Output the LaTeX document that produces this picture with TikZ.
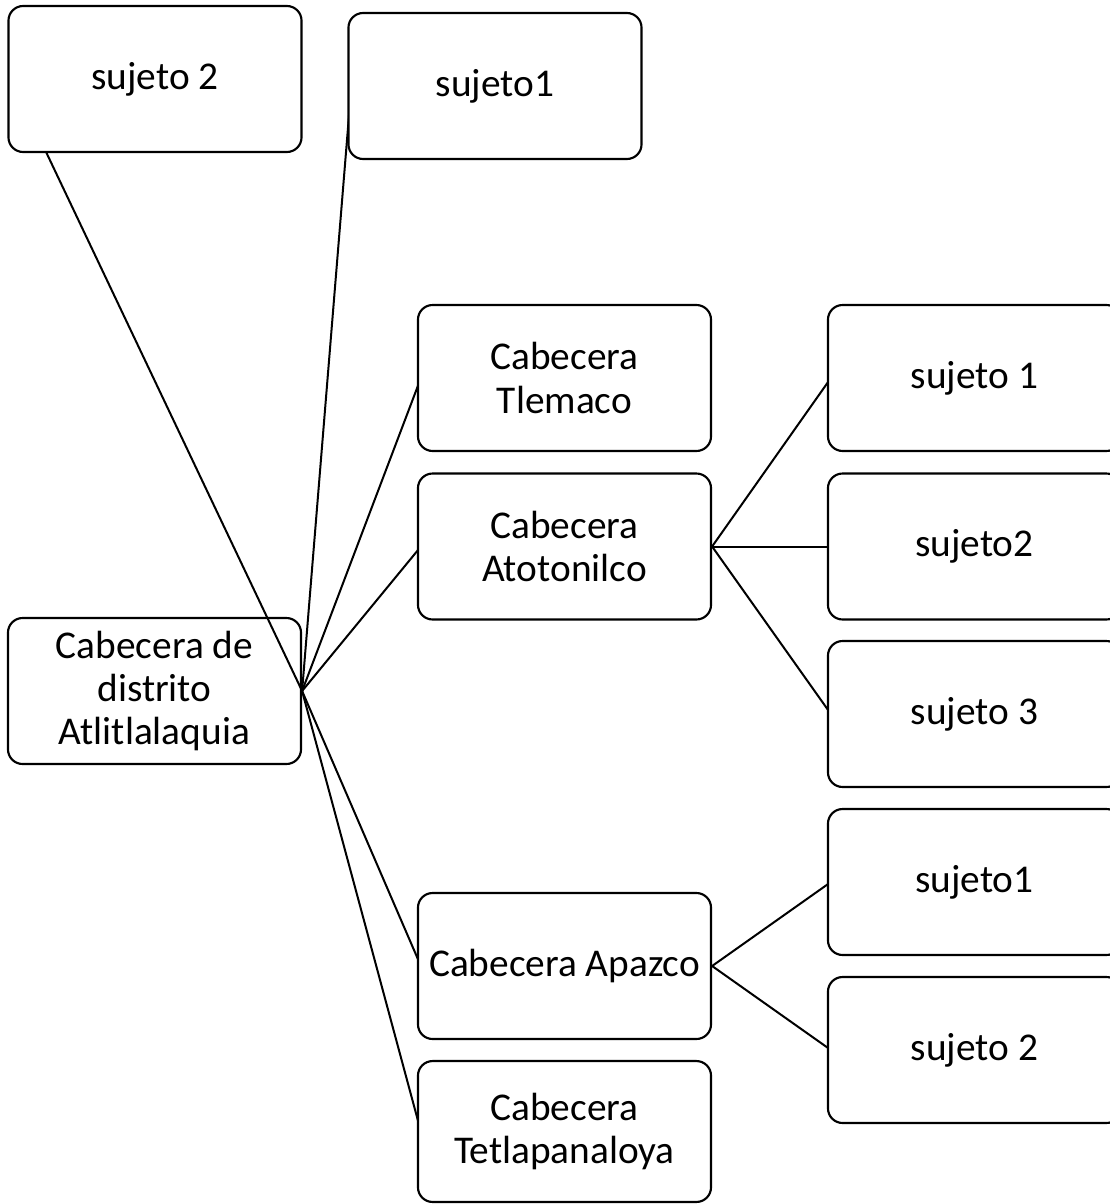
\documentclass[tikz,border=0pt]{standalone}
\usepackage{fontspec}
\setmainfont{Carlito}
\usetikzlibrary{backgrounds,calc}
\begin{document}
\begin{tikzpicture}[x=0.75pt,y=-0.75pt,
  box/.style={draw=black, fill=white, rounded corners=11pt, line width=1.6pt,
    minimum width=219.8pt, minimum height=109.5pt, align=center, inner sep=0pt,
    font=\fontsize{29.5}{32.5}\selectfont},
  conn/.style={draw=black, line width=1.5pt}]
\useasboundingbox (0,0) rectangle (1110,1204);
\clip (0,0) rectangle (1110,1204);
\node[box] (s2top) at (155,79) {sujeto 2};
\node[box] (s1top) at (495,86) {sujeto1};
\node[box] (tlemaco) at (564.5,378) {Cabecera\\Tlemaco};
\node[box] (atoto) at (564.5,546.5) {Cabecera\\Atotonilco};
\node[box] (apazco) at (564.5,966) {Cabecera Apazco};
\node[box, minimum height=105.7pt] (tetla) at (564.5,1131.5) {Cabecera\\Tetlapanaloya};
\node[box] (r1) at (974.5,378) {sujeto 1};
\node[box] (r2) at (974.5,546.5) {sujeto2};
\node[box] (r3) at (974.5,714) {sujeto 3};
\node[box] (r4) at (974.5,882) {sujeto1};
\node[box] (r5) at (974.5,1050) {sujeto 2};
\begin{scope}[on background layer]
\node[box] (root) at (154.5,691) {Cabecera de\\distrito\\Atlitlalaquia};
\draw[conn] (root.east) -- ($(s2top.west)+(4,0)$);
\draw[conn] (root.east) -- ($(s1top.west)+(4,0)$);
\draw[conn] (root.east) -- ($(tlemaco.west)+(4,0)$);
\draw[conn] (root.east) -- ($(atoto.west)+(4,0)$);
\draw[conn] (root.east) -- ($(apazco.west)+(4,0)$);
\draw[conn] (root.east) -- ($(tetla.west)+(4,0)$);
\draw[conn] (atoto.east) -- ($(r1.west)+(4,0)$);
\draw[conn] (atoto.east) -- ($(r2.west)+(4,0)$);
\draw[conn] (atoto.east) -- ($(r3.west)+(4,0)$);
\draw[conn] (apazco.east) -- ($(r4.west)+(4,0)$);
\draw[conn] (apazco.east) -- ($(r5.west)+(4,0)$);
\end{scope}
\end{tikzpicture}
\end{document}
